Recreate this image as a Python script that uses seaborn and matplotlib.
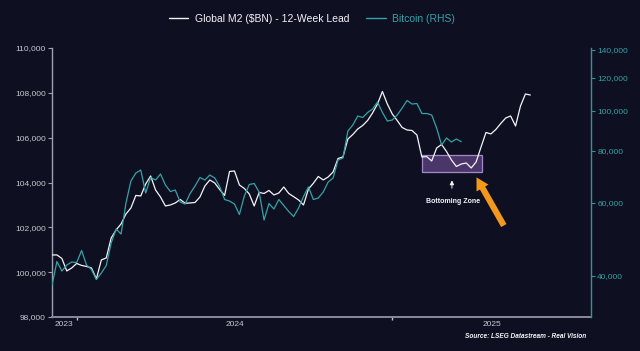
import matplotlib
matplotlib.use("Agg")
import matplotlib.pyplot as plt
import matplotlib.dates as mdates
import matplotlib.ticker as mticker
from matplotlib.patches import Rectangle
import pandas as pd
import seaborn as sns

# weekly readings, Global M2 ($BN), shifted 12 weeks forward
m2 = [100768, 100768, 100612, 100054, 100188, 100389, 100300, 100255, 100188, 99697,
      100545, 100634, 101526, 101883, 102150, 102596, 102864, 103422, 103400, 103934,
      104291, 103667, 103355, 102953, 102998, 103087, 103243, 103074, 103087, 103109,
      103355, 103845, 104113, 103979, 103689, 103422, 104492, 104514, 103890, 103734,
      103489, 102953, 103555, 103511, 103645, 103444, 103533, 103800, 103511, 103368,
      103221, 102998, 103711, 103966, 104269, 104113, 104247, 104470, 105072, 105139,
      105941, 106142, 106387, 106544, 106767, 107101, 107502, 108060, 107502, 107056,
      106767, 106455, 106343, 106321, 106120, 105139, 105152, 104960, 105540, 105696,
      105384, 105005, 104715, 104826, 104871, 104648, 104916, 105585, 106232, 106166,
      106365, 106633, 106878, 106967, 106521, 107413, 107948, 107904]

# weekly readings, Bitcoin (RHS, log)
btc = [37900, 43230, 41010, 42400, 43120, 42990, 45960, 42400, 41350, 39110,
       40560, 42280, 47920, 51790, 50370, 59840, 67620, 70690, 71870, 63260,
       68950, 68000, 70300, 66130, 63790, 64320, 60170, 59500, 63080, 65770,
       68950, 68000, 69910, 68760, 65590, 61010, 60500, 59500, 56140, 62220,
       66320, 66690, 63620, 54450, 59670, 57880, 61010, 59010, 57080, 55510,
       58200, 62030, 65410, 61010, 61530, 63620, 67240, 68760, 75980, 76830,
       89270, 92290, 97020, 96220, 98940, 100870, 104870, 98940, 94370, 94890,
       97570, 101430, 105760, 103710, 104000, 98380, 98380, 97570, 90760, 82590,
       85860, 83980, 85380, 84130]

start = pd.Timestamp("2023-04-17")
year_labels = ["2023", "2024", "2025"]
year_pos = ["2023-05-04", "2024-01-01", "2025-01-01"]
left_ticks = [98000, 100000, 102000, 104000, 106000, 108000, 110000]
right_ticks = [40000, 60000, 80000, 100000, 120000, 140000]

BG = "#0f0f22"
WHITE = "#f4f4f8"
TEAL = "#33a3a6"
GREY = "#c8c8d2"


def wk(w):
    return mdates.date2num(start + pd.Timedelta(weeks=w))


df_m2 = pd.DataFrame({"date": pd.date_range(start, periods=len(m2), freq="7D"), "v": m2})
df_btc = pd.DataFrame({"date": pd.date_range(start, periods=len(btc), freq="7D"), "v": btc})

sns.set_style("dark")
plt.rcParams["font.family"] = ["Liberation Sans", "DejaVu Sans"]

fig = plt.figure(figsize=(6.4, 3.51), dpi=100, facecolor=BG)
ax = fig.add_axes([0.08125, 0.0969, 0.8422, 0.7663])
ax.set_facecolor(BG)
ax2 = ax.twinx()

sns.lineplot(data=df_m2, x="date", y="v", ax=ax, color=WHITE, linewidth=0.9, zorder=3)
sns.lineplot(data=df_btc, x="date", y="v", ax=ax2, color=TEAL, linewidth=0.9)

ax.set_xlim(wk(0), wk(109.3))
ax.set_ylim(98000, 110000)
ax.set_yticks(left_ticks)
ax.yaxis.set_major_formatter(mticker.StrMethodFormatter("{x:,.0f}"))

ax2.set_yscale("log")
ax2.set_ylim(31770, 141560)
ax2.yaxis.set_major_locator(mticker.FixedLocator(right_ticks))
ax2.yaxis.set_minor_locator(mticker.NullLocator())
ax2.yaxis.set_major_formatter(mticker.StrMethodFormatter("{x:,.0f}"))

ax.set_xticks([mdates.date2num(pd.Timestamp(d)) for d in year_pos])
ax.set_xticklabels(year_labels)
ax.set_xticks([wk(5.1), wk(69.0)], minor=True)

for a in (ax, ax2):
    a.set_xlabel("")
    a.set_ylabel("")
    a.grid(False)
    for s in a.spines.values():
        s.set_visible(False)

ax.spines["left"].set_visible(True)
ax.spines["left"].set_color("#a0a0b0")
ax.spines["bottom"].set_visible(True)
ax.spines["bottom"].set_color("#8a8a9c")
ax.spines["left"].set_linewidth(1.0)
ax.spines["bottom"].set_linewidth(1.4)
ax2.spines["right"].set_visible(True)
ax2.spines["right"].set_color("#3a8f95")
ax2.spines["right"].set_linewidth(1.0)

ax.tick_params(axis="y", colors="#a0a0b0", labelcolor=GREY, labelsize=6, length=3, width=0.8, pad=1.5, left=True)
ax.tick_params(axis="x", which="major", length=0, labelcolor=GREY, labelsize=6, pad=3)
ax.tick_params(axis="x", which="minor", length=2.5, width=1, color="#c0c0cc", bottom=True)
ax2.tick_params(axis="y", colors="#3a8f95", labelcolor=TEAL, labelsize=6, length=3, width=0.8, pad=1.5, right=True)

# bottoming zone box and labels
ax.add_patch(Rectangle((wk(75.05), 104469), wk(87.2) - wk(75.05), 759,
                       facecolor="#4a3668", edgecolor="#a488cc", linewidth=0.9,
                       zorder=2))
ax.annotate("", xy=(wk(81.1), 104220), xytext=(wk(81.1), 103620),
            arrowprops=dict(arrowstyle="-|>", color=WHITE, lw=0.7, mutation_scale=6))
ax.text(wk(81.3), 103132, "Bottoming Zone", color=WHITE, fontsize=5, fontweight="bold",
        ha="center", va="center")
ax.annotate("", xy=(wk(85.8), 104336), xytext=(wk(91.9), 101972),
            arrowprops=dict(arrowstyle="simple,head_length=0.8,head_width=0.9,tail_width=0.4",
                            color="#f4981c", lw=0, mutation_scale=11))

handles = [plt.Line2D([], [], color=WHITE, lw=1.0), plt.Line2D([], [], color=TEAL, lw=1.0)]
fig.legend(handles, [r"Global M2 (\$BN) - 12-Week Lead", "Bitcoin (RHS)"],
           loc="center", bbox_to_anchor=(0.487, 0.946), ncol=2, frameon=False,
           fontsize=7.5, handlelength=1.9, handletextpad=0.6, columnspacing=1.6,
           labelcolor=[WHITE, TEAL])

fig.text(0.916, 0.040, "Source: LSEG Datastream - Real Vision", color=WHITE,
         fontsize=4.7, fontweight="bold", fontstyle="italic", ha="right", va="center")

fig.savefig("out.png", dpi=100, facecolor=BG)
